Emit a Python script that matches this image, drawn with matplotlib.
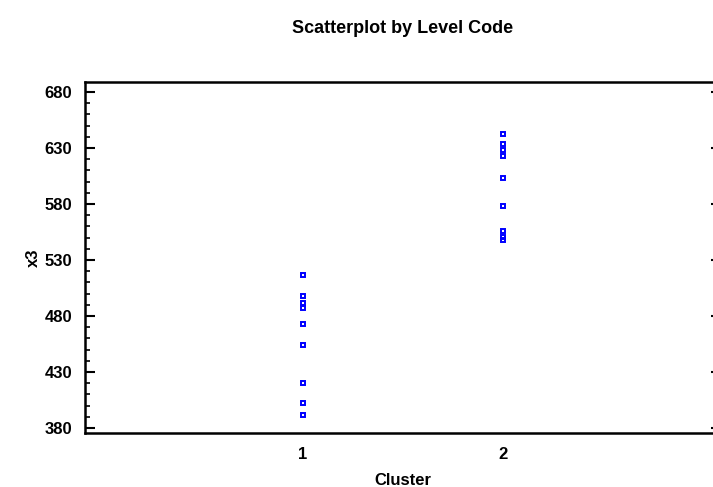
import matplotlib
matplotlib.use('Agg')
import matplotlib.pyplot as plt
from matplotlib.ticker import MultipleLocator

plt.rcParams['font.family'] = ['Liberation Sans', 'DejaVu Sans']
plt.rcParams['font.weight'] = 'bold'

# Data
cluster1_x3 = [517, 497.5, 492, 487, 472.5, 454.5, 420.5, 402.5, 392]
cluster2_x3 = [642.5, 633.5, 628, 623, 603, 578, 556, 551, 548]
clusters = [1, 2]
y_ticks = [380, 430, 480, 530, 580, 630, 680]

fig = plt.figure(figsize=(7.13, 4.87), dpi=100)
ax = fig.add_axes([0.1192, 0.1109, 0.892, 0.7207])

for c, vals in zip(clusters, [cluster1_x3, cluster2_x3]):
    ax.plot([c] * len(vals), vals, linestyle='none', marker='s', ms=3.4,
            mfc='none', mec='#0000ff', mew=1.4)

ax.set_xlim(-0.09, 3.09)
ax.set_ylim(375.5, 689)
ax.set_xticks(clusters)
ax.set_yticks(y_ticks)
ax.yaxis.set_minor_locator(MultipleLocator(10))

for side in ['top', 'bottom', 'left', 'right']:
    ax.spines[side].set_linewidth(1.8)

ax.tick_params(axis='x', length=0, pad=10, labelsize=12)
ax.tick_params(axis='y', which='major', direction='in', length=7, width=1.5,
               right=True, pad=9, labelsize=12)
ax.tick_params(axis='y', which='minor', direction='in', length=3.5, width=1.2,
               left=True, right=False)

ax.set_xlabel('Cluster', fontsize=12, fontweight='bold', labelpad=8)
ax.set_ylabel('x3', fontsize=12, fontweight='bold', labelpad=3)
fig.text(0.565, 0.942, 'Scatterplot by Level Code', ha='center', va='center',
         fontsize=13, fontweight='bold')

fig.savefig('out.png', dpi=100)
